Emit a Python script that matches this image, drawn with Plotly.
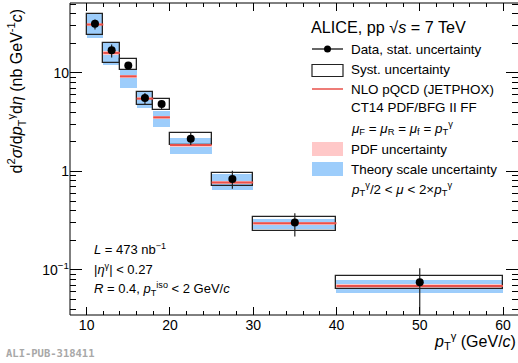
import plotly.graph_objects as go

# ---- data ----
bin_lo = [10, 12, 14, 16, 18, 20, 25, 30, 40]
bin_hi = [12, 14, 16, 18, 20, 25, 30, 40, 60]
pt = [11, 13, 15, 17, 19, 22.5, 27.5, 35, 50]
data = [31.5, 17.0, 11.9, 5.57, 4.84, 2.15, 0.836, 0.303, 0.075]
stat_up = [3.3, 2.4, 0.9, 0.70, 0.38, 0.30, 0.18, 0.074, 0.029]
stat_dn = [3.9, 2.7, 1.1, 0.81, 0.53, 0.30, 0.17, 0.085, 0.040]
syst_hi = [39.2, 19.9, 14.0, 6.41, 5.48, 2.45, 0.962, 0.348, 0.0869]
syst_lo = [24.1, 12.6, 10.8, 4.69, 4.17, 1.87, 0.715, 0.251, 0.0637]
nlo = [31.0, 15.96, 9.23, 5.48, 3.54, 1.85, 0.773, 0.298, 0.0687]
scale_hi = [39.2, 19.9, 10.8, 6.61, 4.07, 2.18, 0.94, 0.33, 0.079]
scale_lo = [22.7, 12.1, 7.03, 4.41, 2.83, 1.51, 0.65, 0.26, 0.0587]
pdf_hi = [32.2, 16.6, 9.6, 5.7, 3.68, 1.92, 0.80, 0.31, 0.0714]
pdf_lo = [29.8, 15.3, 8.86, 5.26, 3.40, 1.78, 0.74, 0.286, 0.066]

y_tickvals = [0.1, 1, 10]
y_ticktext = ["10<sup>−1</sup>", "1", "10"]
x_tickvals = [10, 20, 30, 40, 50, 60]

BLUE = "#9dcdfb"
PINK = "#ffc8c8"
RED = "#e8504a"
FONT = "Liberation Sans, Arial, sans-serif"

centers = [(a + b) / 2 for a, b in zip(bin_lo, bin_hi)]
widths = [b - a for a, b in zip(bin_lo, bin_hi)]

fig = go.Figure()

# theory scale band
fig.add_trace(go.Bar(x=centers, width=widths, base=scale_lo,
                     y=[h - l for h, l in zip(scale_hi, scale_lo)],
                     marker=dict(color=BLUE, line=dict(width=0)), showlegend=False))
# pdf band
fig.add_trace(go.Bar(x=centers, width=widths, base=pdf_lo,
                     y=[h - l for h, l in zip(pdf_hi, pdf_lo)],
                     marker=dict(color=PINK, line=dict(width=0)), showlegend=False))
# NLO central line
lx, ly = [], []
for a, b, v in zip(bin_lo, bin_hi, nlo):
    lx += [a, b, None]
    ly += [v, v, None]
fig.add_trace(go.Scatter(x=lx, y=ly, mode="lines", line=dict(color=RED, width=2),
                         showlegend=False, connectgaps=False))
# systematic boxes
fig.add_trace(go.Bar(x=centers, width=widths, base=syst_lo,
                     y=[h - l for h, l in zip(syst_hi, syst_lo)],
                     marker=dict(color="rgba(0,0,0,0)", line=dict(color="#222", width=1.3)),
                     showlegend=False))
# data points
fig.add_trace(go.Scatter(x=pt, y=data, mode="markers",
                         marker=dict(color="black", size=8),
                         error_y=dict(type="data", symmetric=False, array=stat_up,
                                      arrayminus=stat_dn, color="#222", thickness=1.2, width=0),
                         showlegend=False))

W, H = 518, 363
L, R, T, B = 70, 0, 3, 48
pw, ph = W - L - R, H - T - B


def px(x):
    return (x - L) / pw


def py(y):
    return (H - B - y) / ph


shapes = []
# frame (left, top, bottom)
for x0, y0, x1, y1 in [(0, 0, 0, 1), (0, 1, 1, 1), (0, 0, 1, 0)]:
    shapes.append(dict(type="line", xref="paper", yref="paper", x0=x0, y0=y0, x1=x1, y1=y1,
                       line=dict(color="black", width=1)))

# legend symbols
sx0, sx1 = px(312), px(343)
shapes.append(dict(type="line", xref="paper", yref="paper", x0=sx0, x1=sx1,
                   y0=py(49), y1=py(49), line=dict(color="black", width=1.2)))
shapes.append(dict(type="circle", xref="paper", yref="paper", x0=px(324), x1=px(331),
                   y0=py(52.5), y1=py(45.5), fillcolor="black", line=dict(width=0)))
shapes.append(dict(type="rect", xref="paper", yref="paper", x0=sx0, x1=sx1,
                   y0=py(76.5), y1=py(64.5), line=dict(color="#222", width=1.2)))
shapes.append(dict(type="line", xref="paper", yref="paper", x0=sx0, x1=sx1,
                   y0=py(89), y1=py(89), line=dict(color=RED, width=1.5)))
shapes.append(dict(type="rect", xref="paper", yref="paper", x0=sx0, x1=sx1,
                   y0=py(156), y1=py(142), fillcolor=PINK, line=dict(width=0)))
shapes.append(dict(type="rect", xref="paper", yref="paper", x0=sx0, x1=sx1,
                   y0=py(176), y1=py(162), fillcolor=BLUE, line=dict(width=0)))

ann = []


def txt(x, y, s, size=13.4, xanchor="left", color="black", family=FONT, **kw):
    ann.append(dict(x=px(x), y=py(y), xref="paper", yref="paper", text=s, showarrow=False,
                    xanchor=xanchor, yanchor="middle",
                    font=dict(size=size, color=color, family=family), **kw))


txt(309, 27, "ALICE, pp √<i>s</i> = 7 TeV", size=16.2)
lx0 = 349
txt(lx0, 49, "Data, stat. uncertainty")
txt(lx0, 69.5, "Syst. uncertainty")
txt(lx0, 89, "NLO pQCD (JETPHOX)")
txt(lx0, 107.5, "CT14 PDF/BFG II FF")
txt(lx0, 128, "<i>μ</i><sub>F</sub> = <i>μ</i><sub>R</sub> = <i>μ</i><sub>f</sub> = <i>p</i><sub>T</sub><sup>γ</sup>")
txt(lx0, 149, "PDF uncertainty")
txt(lx0, 169, "Theory scale uncertainty")
txt(lx0, 189, "<i>p</i><sub>T</sub><sup>γ</sup>/2 < <i>μ</i> < 2×<i>p</i><sub>T</sub><sup>γ</sup>")

txt(92, 249, "<i>L</i> = 473 nb<sup>−1</sup>", size=13)
txt(92, 269, "|<i>η</i><sup>γ</sup>| < 0.27", size=13)
txt(92, 289, "<i>R</i> = 0.4, <i>p</i><sub>T</sub><sup>iso</sup> < 2 GeV/<i>c</i>", size=13)

txt(4, 353, "<b>ALI-PUB-318411</b>", size=10.5, color="#a8a8a8",
    family="DejaVu Sans Mono, Liberation Mono, monospace")

# axis titles
ann.append(dict(x=1.0, y=py(341), xref="paper", yref="paper", xanchor="right", yanchor="middle",
                text="<i>p</i><sub>T</sub><sup>γ</sup> (GeV/<i>c</i>)", showarrow=False,
                font=dict(size=16, family=FONT, color="black")))
ann.append(dict(x=px(17), y=py(7), xref="paper", yref="paper", xanchor="center", yanchor="top",
                text="d<sup>2</sup><i>σ</i>/d<i>p</i><sub>T</sub><sup>γ</sup>d<i>η</i> (nb GeV<sup>-1</sup><i>c</i>)",
                textangle=-90, showarrow=False, font=dict(size=16, family=FONT, color="black")))

fig.update_layout(
    width=W, height=H, margin=dict(l=L, r=R, t=T, b=B, pad=0),
    paper_bgcolor="white", plot_bgcolor="white",
    barmode="overlay", bargap=0, showlegend=False,
    font=dict(family=FONT, size=13, color="black"),
    shapes=shapes, annotations=ann,
)
fig.update_xaxes(range=[8, 61.8], tickmode="array", tickvals=x_tickvals,
                 ticks="inside", ticklen=8, tickcolor="black", mirror="ticks",
                 showline=False, linecolor="rgba(0,0,0,0)", showgrid=False, zeroline=False,
                 tickfont=dict(size=14, family=FONT),
                 minor=dict(ticks="inside", ticklen=4, tickcolor="black", dtick=2, tick0=0, showgrid=False))
fig.update_yaxes(type="log", range=[-1.4575, 1.7097], tickmode="array", tickvals=y_tickvals,
                 ticktext=y_ticktext, ticks="inside", ticklen=12, tickcolor="black", mirror="ticks",
                 showline=False, linecolor="rgba(0,0,0,0)", showgrid=False, zeroline=False,
                 tickfont=dict(size=14, family=FONT),
                 minor=dict(ticks="inside", ticklen=6, tickcolor="black", dtick="D1", showgrid=False))

fig.write_html("out.html", config={"displayModeBar": False},
               post_script="document.body.style.margin='0px';document.body.style.overflow='hidden';")
